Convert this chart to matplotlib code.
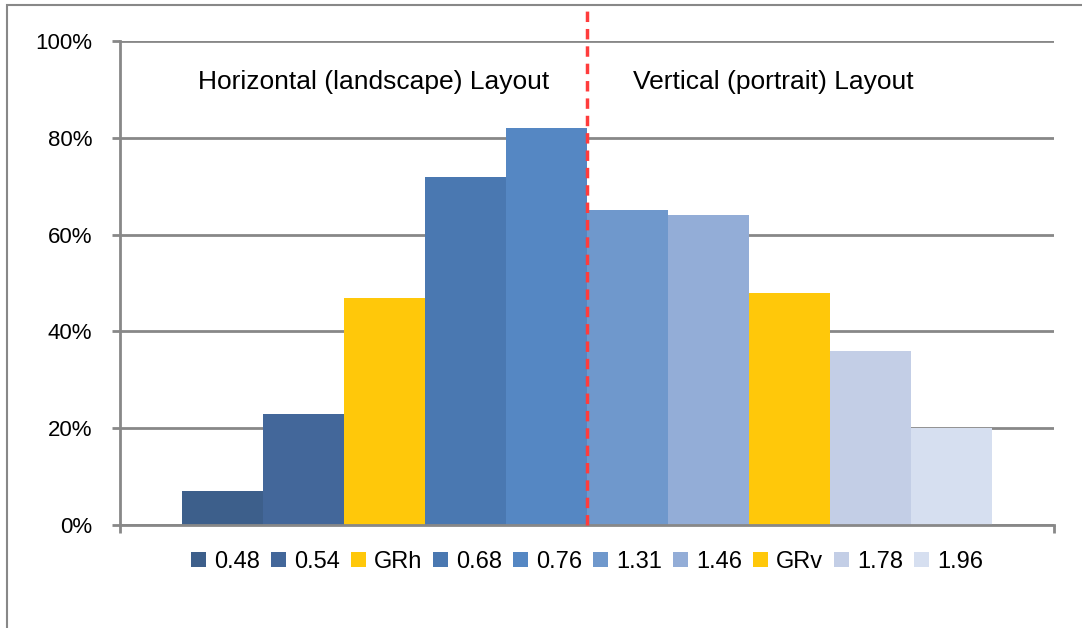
import matplotlib.pyplot as plt
import matplotlib.patches as patches
import numpy as np

plt.rcParams['font.family'] = ['Liberation Sans', 'DejaVu Sans']

series = ['0.48', '0.54', 'GRh', '0.68', '0.76', '1.31', '1.46', 'GRv', '1.78', '1.96']
values = [7, 23, 47, 72, 82, 65, 64, 48, 36, 20]
colors = ['#3d5f8b', '#43679a', '#ffc80a', '#4a78b1', '#5587c3',
          '#6f98cc', '#93add7', '#ffc80a', '#c3cee6', '#d6dff0']
yticks = [0, 20, 40, 60, 80, 100]

fig = plt.figure(figsize=(10.82, 6.28), dpi=100)
ax = fig.add_axes([120 / 1082, 1 - 525 / 628, 934 / 1082, 484 / 628])

w = 0.0867
for i, (name, v, c) in enumerate(zip(series, values, colors)):
    ax.bar((i - 4.5) * w, v, width=w, color=c, label=name, zorder=3)

ax.set_xlim(-0.5, 0.5)
ax.set_ylim(0, 100)
ax.set_yticks(yticks)
ax.set_yticklabels([f'{t}%' for t in yticks], fontsize=16)
ax.set_xticks([-0.5, 0.5])
ax.set_xticklabels([])
ax.grid(axis='y', color='#888888', linewidth=2, zorder=0)
for s in ['top', 'right']:
    ax.spines[s].set_visible(False)
ax.spines['left'].set_color('#888888')
ax.spines['left'].set_linewidth(2)
ax.spines['bottom'].set_color('#888888')
ax.spines['bottom'].set_linewidth(2)
ax.spines['bottom'].set_zorder(4)
ax.tick_params(axis='y', length=6, width=2, color='#888888', pad=14)
ax.tick_params(axis='x', length=6, width=2, color='#888888')

# divider between the two layouts
ax.axvline(0, ymin=0, ymax=520 / 484, color='#ff3c3c', linestyle=(0, (3, 2)),
           linewidth=2.5, clip_on=False, zorder=5)

ax.text(-0.228, 91.5, 'Horizontal (landscape) Layout', fontsize=19, ha='center', va='center')
ax.text(0.2, 91.5, 'Vertical (portrait) Layout', fontsize=19, ha='center', va='center')

ax.legend(loc='center', bbox_to_anchor=(0.5, -0.076), ncol=10, frameon=False,
          fontsize=17, handlelength=0.63, handleheight=0.63, handletextpad=0.34,
          columnspacing=0.47)

fig.patches.append(patches.Rectangle((7 / 1082, -0.1), 1.1, 1.1 - 5 / 628,
                                     transform=fig.transFigure, fill=False,
                                     edgecolor='#888888', linewidth=1.5))

fig.savefig('out.png', dpi=100)
